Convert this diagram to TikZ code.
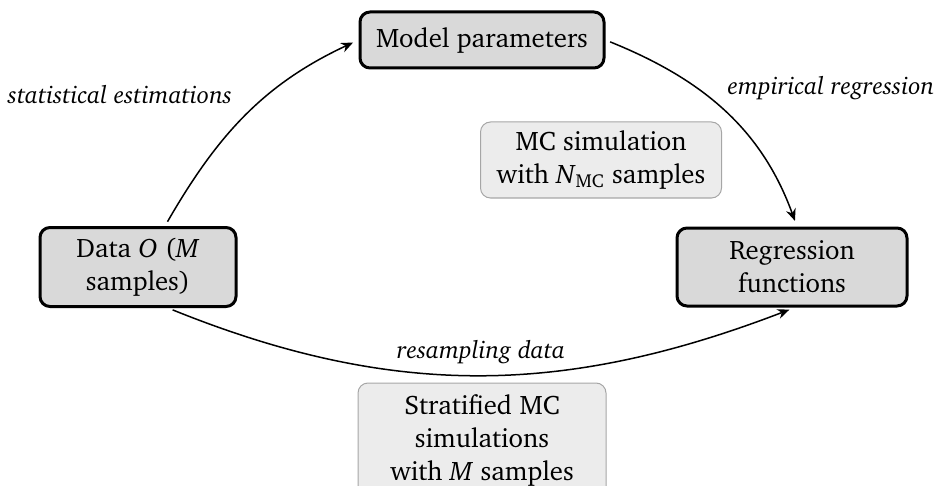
\documentclass[tikz,border=0pt]{standalone}
\IfFileExists{charter.sty}{\usepackage[T1]{fontenc}\usepackage{charter}}{\usepackage{fontspec}\setmainfont{Liberation Serif}}
\usetikzlibrary{arrows.meta,calc}
\begin{document}
\begin{tikzpicture}[x=0.5pt,y=-0.5pt,
  font=\fontsize{13.4}{16.5}\selectfont,
  mainbox/.style={draw=black, line width=1.5pt, rounded corners=5pt, fill=gray!30, align=center, inner sep=0pt},
  simbox/.style={draw=gray!70, line width=0.5pt, rounded corners=5pt, fill=gray!15, align=center, inner sep=0pt},
  conn/.style={line width=0.75pt, -{Stealth[length=6pt,width=5pt]}, shorten >=3pt, shorten <=2.5pt},
  lab/.style={font=\fontsize{12.3}{15}\selectfont\itshape}]
\useasboundingbox (0,0) rectangle (935,486);
\node[mainbox, minimum width=122pt, minimum height=28pt] (model) at (482,40) {Model parameters};
\node[mainbox, minimum width=98pt, minimum height=39.5pt] (data) at (138,267) {Data \textit{O} (\textit{M}\\samples)};
\node[mainbox, minimum width=115pt, minimum height=39pt] (reg) at (792,267) {Regression\\functions};
\node[simbox, minimum width=120.5pt, minimum height=38pt] (mc) at (601,160) {MC simulation\\with \textit{N}\textsubscript{MC} samples};
\node[simbox, minimum width=124pt, minimum height=57pt] (strat) at (482,440) {Stratified MC\\simulations\\with \textit{M} samples};
\node[lab] (l1) at (120,95) {statistical estimations};
\node[lab] (l2) at (831,88) {empirical regression};
\coordinate (a1) at ($(data.north)+(27,0)$);
\coordinate (b2) at ($(reg.north)+(5,0)$);
\coordinate (a3) at ($(data.south)+(30,0)$);
\coordinate (b3) at ($(reg.south)+(3,0)$);
\draw[conn] (a1) to[out=60,in=205] (model.west);
\draw[conn] (model.east) to[out=-22,in=110] (b2);
\draw[conn] (a3) to[out=-22,in=201] node[lab, above, pos=0.5, yshift=2pt] (l3) {resampling data} (b3);
\end{tikzpicture}
\end{document}
